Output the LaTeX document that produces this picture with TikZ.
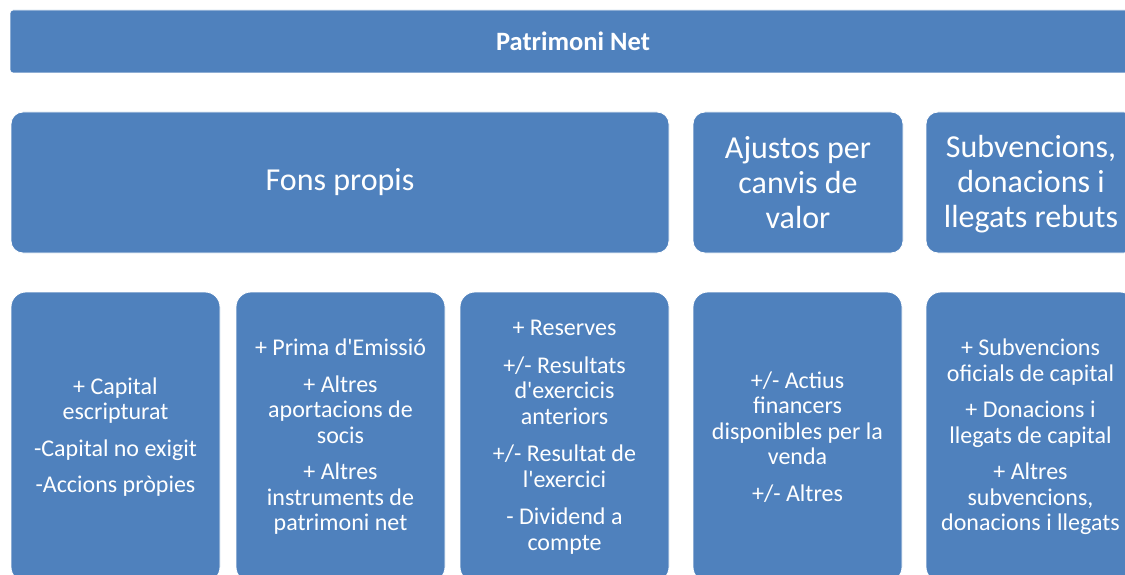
\documentclass[tikz,border=0pt]{standalone}
\usepackage{fontspec}
\setmainfont{Carlito}
\usepackage{tikz}
\usetikzlibrary{positioning}
\definecolor{boxblue}{RGB}{79,129,189}
\newcommand{\ap}{\textquotesingle}

\begin{document}
\begin{tikzpicture}[
            x = 1pt, y = -1pt, % pixel grid, y down
            every node/.style = {inner sep = 0pt, outer sep = 0pt}
        ]

        \tikzstyle{block}=[
            draw = white,
            line width = 0.8pt,
            fill = boxblue,
            text = white,
            align = center,
            anchor = north west
        ]
        \tikzstyle{head}=[block, rounded corners = 3pt, minimum width = 1126pt,
            minimum height = 63pt, font = \bfseries\fontsize{26.5}{28}\selectfont]
        \tikzstyle{group}=[block, rounded corners = 12pt, minimum height = 141pt,
            font = \fontsize{32}{35}\selectfont]
        \tikzstyle{item}=[block, rounded corners = 15pt, minimum width = 209pt,
            minimum height = 290pt, font = \fontsize{24}{25.5}\selectfont]

        \useasboundingbox (0,0) rectangle (1125,575);
        \clip (0,0) rectangle (1125,575);

        % top level
        \node[head] (PN) at (10,10) {Patrimoni Net};

        % groups
        \node[group, minimum width = 658pt] (FP) at (11,112) {Fons propis};
        \node[group, minimum width = 210pt] (AV) at (693,112) {Ajustos per\\canvis de\\valor};
        \node[group, minimum width = 210pt] (SD) at (926,112) {\strut Subvencions,\\donacions i\\llegats rebuts};

        % items
        \node[item] (CAP) at (11,292) {+ Capital\\escripturat\\[11pt]-Capital no exigit\\[11pt]-Accions pròpies};
        \node[item] (PRI) at (236,292) {+ Prima d\ap Emissió\\[11pt]+ Altres\\aportacions de\\socis\\[11pt]+ Altres\\instruments de\\patrimoni net};
        \node[item] (RES) at (460,292) {+ Reserves\\[12pt]+/- Resultats\\d\ap exercicis\\anteriors\\[12pt]+/- Resultat de\\l\ap exercici\\[12pt]- Dividend a\\compte};
        \node[item] (ACT) at (693,292) {+/- Actius\\financers\\disponibles per la\\venda\\[11pt]+/- Altres};
        \node[item] (SUB) at (926,292) {+ Subvencions\\oficials de capital\\[11pt]+ Donacions i\\llegats de capital\\[11pt]+ Altres\\subvencions,\\donacions i llegats};

  \end{tikzpicture}
\end{document}
